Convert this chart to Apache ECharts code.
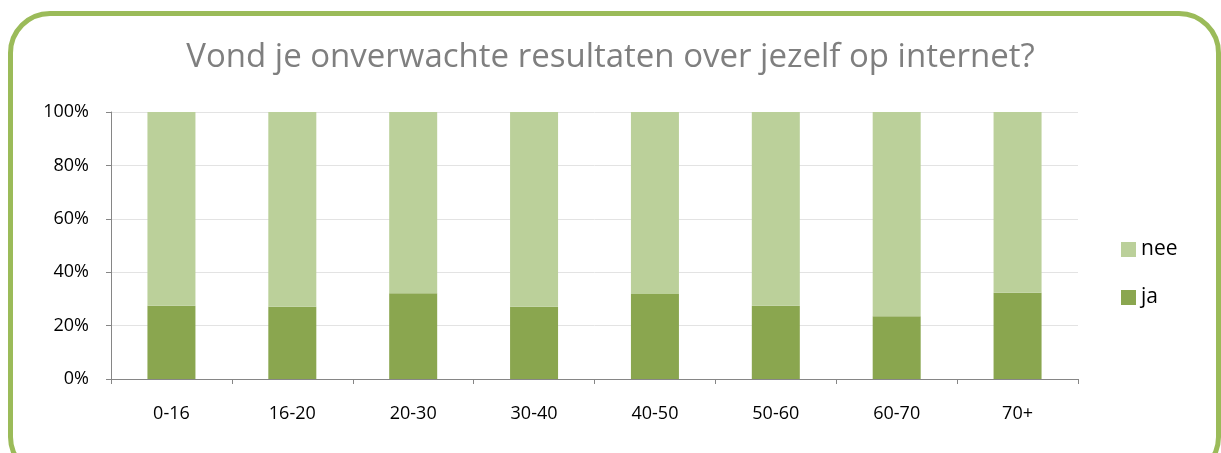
<!DOCTYPE html>
<html><head><meta charset="utf-8">
<script src="https://cdn.jsdelivr.net/npm/echarts@6/dist/echarts.min.js"></script>
<style>
html,body{margin:0;padding:0;background:#fff;overflow:hidden;}
#frame{position:absolute;left:8px;top:11px;width:1213px;height:468px;border:5px solid #9bbb59;border-radius:42px;box-sizing:border-box;}
#chart{position:absolute;left:0;top:0;width:1221px;height:453px;}
</style></head>
<body>
<div id="frame"></div>
<div id="chart"></div>
<script>
const categories = ['0-16','16-20','20-30','30-40','40-50','50-60','60-70','70+'];
const ja = [27.4, 27.1, 32.1, 27.1, 31.8, 27.4, 23.5, 32.3];
const nee = [72.6, 72.9, 67.9, 72.9, 68.2, 72.6, 76.5, 67.7];
const yTicks = [0, 20, 40, 60, 80, 100];

const chart = echarts.init(document.getElementById('chart'));
chart.setOption({
  animation: false,
  title: {
    text: 'Vond je onverwachte resultaten over jezelf op internet?',
    left: 'center', top: 36,
    textStyle: {fontFamily: 'Open Sans', fontWeight: 'normal', fontSize: 33, color: '#7f7f7f'}
  },
  legend: {
    orient: 'vertical', left: 1116, top: 234,
    data: ['nee', 'ja'],
    itemWidth: 15, itemHeight: 15, itemGap: 27,
    icon: 'rect',
    textStyle: {fontFamily: 'Open Sans', fontSize: 21, color: '#000'}
  },
  grid: {left: 111, right: 143, top: 112, bottom: 74},
  xAxis: {
    type: 'category', data: categories,
    axisLine: {lineStyle: {color: '#868686'}},
    axisTick: {show: true, length: 5, lineStyle: {color: '#868686'}},
    axisLabel: {fontFamily: 'Open Sans', fontSize: 18, color: '#000', margin: 26}
  },
  yAxis: {
    type: 'value', min: 0, max: 100, interval: 20,
    axisLine: {show: true, lineStyle: {color: '#868686'}},
    axisTick: {show: true, length: 5, lineStyle: {color: '#868686'}},
    axisLabel: {fontFamily: 'Open Sans', fontSize: 18, color: '#000', margin: 22,
      formatter: v => yTicks.includes(v) ? v + '%' : ''},
    splitLine: {lineStyle: {color: '#e3e3e3'}}
  },
  series: [
    {name: 'ja', type: 'bar', stack: 'a', data: ja, barWidth: 48,
     itemStyle: {color: '#8aa64f'}},
    {name: 'nee', type: 'bar', stack: 'a', data: nee, barWidth: 48,
     itemStyle: {color: '#bbd09a'}}
  ]
});
</script>
</body></html>
